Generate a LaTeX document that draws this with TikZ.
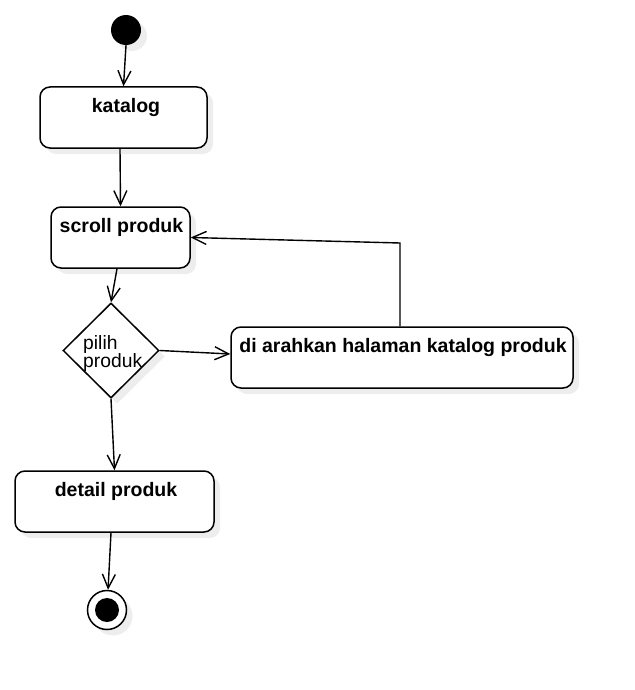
\documentclass[tikz,border=0pt]{standalone}
\usepackage{fontspec}
\setmainfont{Liberation Sans}
\usetikzlibrary{arrows.meta,shapes.geometric,shadows}
\begin{document}
\begin{tikzpicture}[x=1pt,y=-1pt,
  every node/.style={font=\fontsize{19.3}{18.5}\selectfont},
  softshadow/.style={drop shadow={shadow xshift=6pt, shadow yshift=-6pt, fill=black, opacity=0.07}},
  actbox/.style={draw, line width=1.5pt, rounded corners=10pt, fill=white, inner sep=0pt, softshadow},
  lbl/.style={anchor=base, font=\bfseries\fontsize{19.5}{19.5}\selectfont, inner sep=0pt},
  flow/.style={draw, line width=1.4pt, -{Straight Barb[length=14pt,width=13pt,line width=1.4pt]}},
]
\fill[white] (0,0) rectangle (634,690);
\useasboundingbox (0,0) rectangle (634,690);

\node[circle, fill=black, minimum size=30pt, inner sep=0pt, softshadow] (start) at (126,30) {};

\node[actbox, minimum width=167pt, minimum height=61pt] (katalog) at (123.5,117.5) {};
\node[lbl] (katalogT) at (126,112.5) {katalog};

\node[actbox, minimum width=139pt, minimum height=61pt] (scroll) at (120.5,237.5) {};
\node[lbl] (scrollT) at (121.5,232) {scroll produk};

\node[diamond, draw, line width=1.5pt, fill=white, aspect=1, minimum width=96pt, minimum height=95pt, inner sep=0pt, softshadow] (pilih) at (111,350.5) {};
\node[anchor=base west, align=left, inner sep=0pt] (pilihT) at (83,367.5) {pilih\\produk};

\node[actbox, minimum width=342pt, minimum height=61pt] (arah) at (402,357.5) {};
\node[lbl] (arahT) at (403,352) {di arahkan halaman katalog produk};

\node[actbox, minimum width=199pt, minimum height=61pt] (detail) at (114.5,501.5) {};
\node[lbl] (detailT) at (116,496) {detail produk};

\node[circle, draw, line width=1.5pt, minimum size=39pt, inner sep=0pt, fill=white, softshadow] (end) at (107,610) {};
\node[circle, fill=black, minimum size=24pt, inner sep=0pt] (endIn) at (107,610) {};

\coordinate (bend) at (400,243);

\draw[flow] (start.south) -- (katalog.north);
\draw[flow] ([xshift=-3.5pt]katalog.south) -- (scroll.north);
\draw[flow] ([xshift=-3.5pt]scroll.south) -- (pilih.north);
\draw[flow] (pilih.east) -- ([yshift=3.5pt]arah.west);
\draw[flow] ([xshift=-2pt]arah.north) -- (bend) -- (scroll.east);
\draw[flow] (pilih.south) -- (detail.north);
\draw[flow] ([xshift=-3.5pt]detail.south) -- (end);
\end{tikzpicture}
\end{document}
